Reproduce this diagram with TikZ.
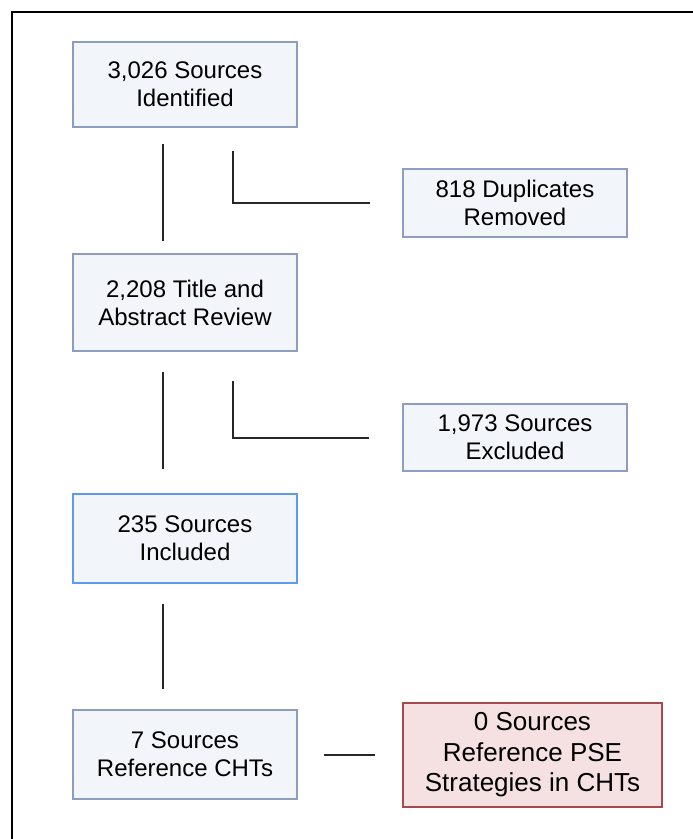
\documentclass[tikz,border=0pt]{standalone}
\usepackage{fontspec}
\setmainfont{Liberation Sans}
\definecolor{boxfill}{HTML}{F2F5FA}
\definecolor{boxline}{HTML}{8E9CC2}
\definecolor{keepline}{HTML}{5C9BEF}
\definecolor{redfill}{HTML}{F5E1E2}
\definecolor{redline}{HTML}{A64A4F}
\tikzset{
    stage/.style={rectangle, draw=boxline, fill=boxfill, line width=1.5pt, align=center,
        minimum width=224pt, inner sep=0pt, font=\fontsize{24}{28}\selectfont},
    link/.style={line width=2pt, draw=black!85}
}
\begin{document}
\begin{tikzpicture}[x=1pt,y=-1pt]
            \useasboundingbox (0,0) rectangle (693,839);
            \draw[line width=2pt] (12,839) -- (12,12) -- (693,12);

            \node at (185,84.5) [stage, minimum height=85pt] (found) {3,026 Sources\\Identified};
            \node at (185,302.5) [stage, minimum height=97pt] (screen) {2,208 Title and\\Abstract Review};
            \node at (185,538.5) [stage, draw=keepline, minimum height=89pt] (kept) {235 Sources\\Included};
            \node at (185,754.5) [stage, minimum height=89pt] (cht) {7 Sources\\Reference CHTs};
            \node at (515,203) [stage, minimum height=68pt] (dups) {818 Duplicates\\Removed};
            \node at (515,437.5) [stage, minimum height=67pt] (excl) {1,973 Sources\\Excluded};
            \node at (532.5,755) [stage, draw=redline, fill=redfill, minimum width=259pt, minimum height=104pt,
                font=\fontsize{26}{30.5}\selectfont] (pse) {0 Sources\\Reference PSE\\Strategies in CHTs};

            \draw[link, shorten <=16pt, shorten >=12pt] ([xshift=-22pt]found.south) -- ([xshift=-22pt]screen.north);
            \draw[link, shorten <=20pt, shorten >=24pt] ([xshift=-22pt]screen.south) -- ([xshift=-22pt]kept.north);
            \draw[link, shorten <=20pt, shorten >=20pt] ([xshift=-22pt]kept.south) -- ([xshift=-22pt]cht.north);
            \draw[link, shorten >=32pt] ([xshift=48pt, yshift=-23pt]found.south) |- (dups.west);
            \draw[link, shorten >=33pt] ([xshift=48pt, yshift=-29pt]screen.south) |- (excl.west);
            \draw[link, shorten <=26pt, shorten >=27pt] (cht.east) -- (cht.east -| pse.west);
\end{tikzpicture}
\end{document}
